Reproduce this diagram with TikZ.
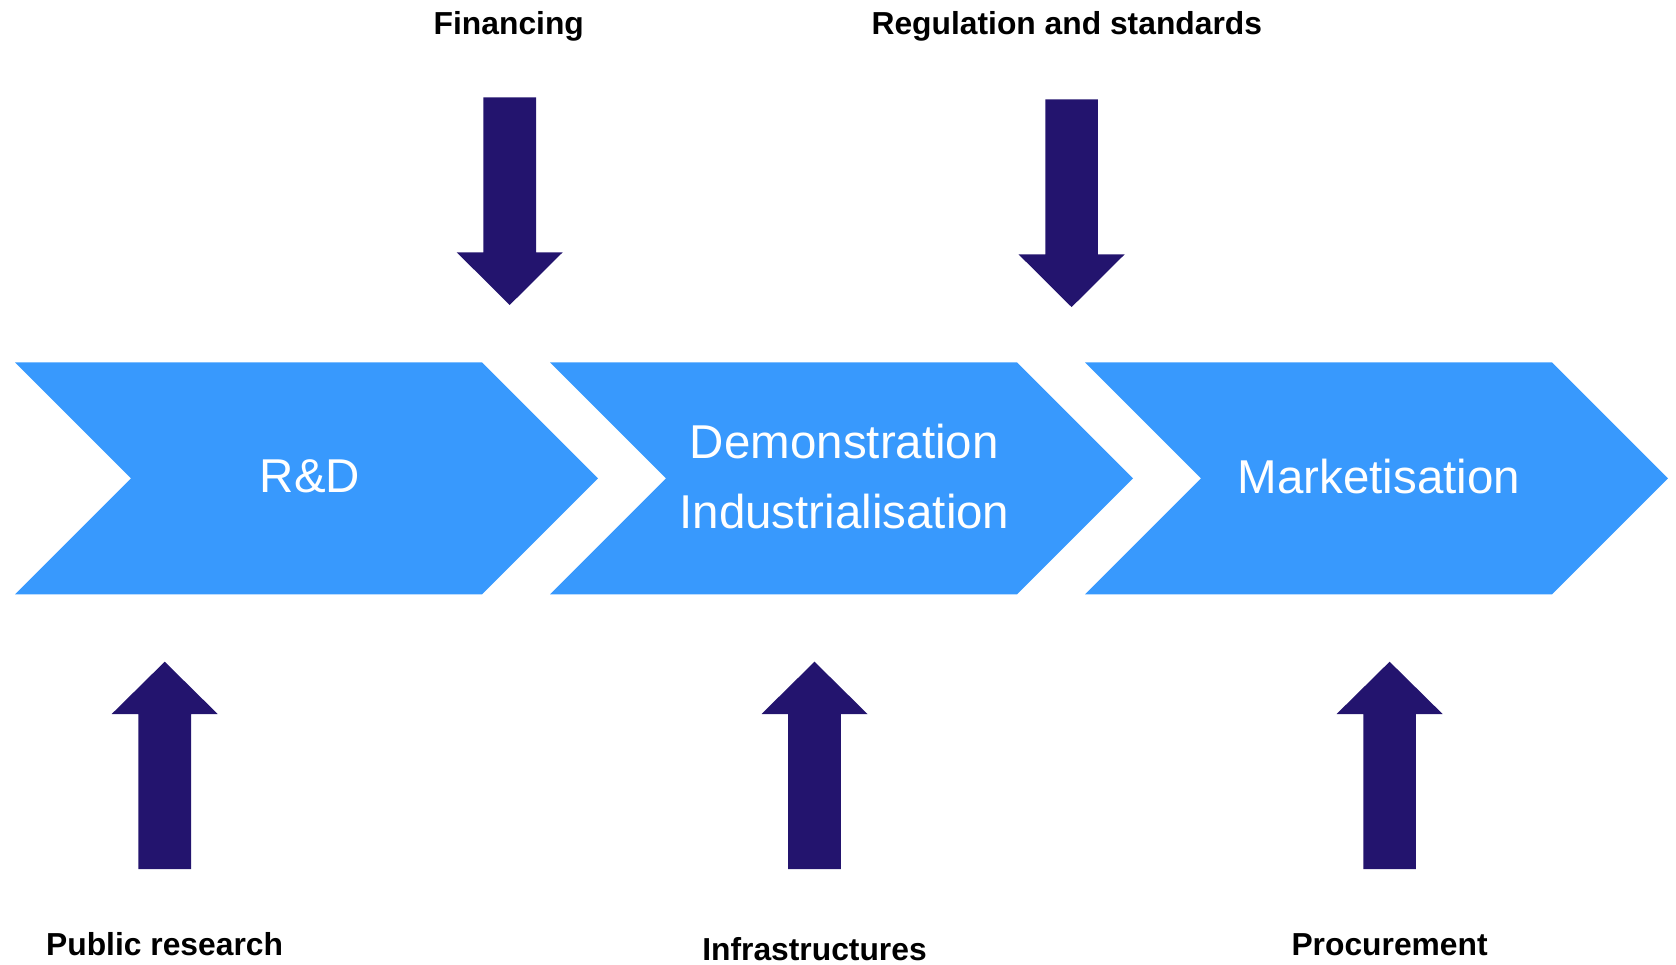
\documentclass[tikz,border=0pt]{standalone}
\usepackage{fontspec}
\setmainfont{Liberation Sans}
\definecolor{chevblue}{RGB}{56,153,253}
\definecolor{navy}{RGB}{35,20,110}
\tikzset{
  chev/.style={fill=chevblue, draw=none},
  blockarrow/.style={fill=navy, draw=none},
  stage/.style={text=white, inner sep=0pt, align=center, font=\fontsize{47.5}{69.5}\selectfont},
  lbl/.style={text=black, inner sep=0pt, font=\fontsize{31.8}{36}\selectfont\bfseries}
}
\begin{document}
\begin{tikzpicture}[x=1pt,y=-1pt]
\useasboundingbox (0,0) rectangle (1676,964);
% chevrons
\foreach \L in {15,550,1085}{
  \fill[chev] (\L,362.3) -- (\L+467,362.3) -- (\L+583,478.3) -- (\L+467,594.3) -- (\L,594.3) -- (\L+116,478.3) -- cycle;
}
\node[stage] (rd) at (310,476.7) {R\&D};
\node[stage] (demo) at (844.4,476.3) {Demonstration\\Industrialisation};
\node[stage] (mkt) at (1378.9,476.7) {Marketisation};
% down arrows
\foreach \cx/\yy in {509.7/97.3, 1071.6/99.4}{
  \fill[blockarrow] (\cx-26.3,\yy) -- (\cx+26.3,\yy) -- (\cx+26.3,\yy+155) -- (\cx+53,\yy+155) -- (\cx,\yy+207.7) -- (\cx-53,\yy+155) -- (\cx-26.3,\yy+155) -- cycle;
}
% up arrows
\foreach \cx in {164.7,814.5,1389.6}{
  \fill[blockarrow] (\cx,661.7) -- (\cx+53,714) -- (\cx+26.3,714) -- (\cx+26.3,869) -- (\cx-26.3,869) -- (\cx-26.3,714) -- (\cx-53,714) -- cycle;
}
% labels
\node[lbl] (fin) at (508.8,26.5) {Financing};
\node[lbl] (reg) at (1066.8,26.5) {Regulation and standards};
\node[lbl] (pub) at (164.6,943.8) {Public research};
\node[lbl] (inf) at (814.5,949.5) {Infrastructures};
\node[lbl] (proc) at (1389.6,945) {Procurement};
\end{tikzpicture}
\end{document}
